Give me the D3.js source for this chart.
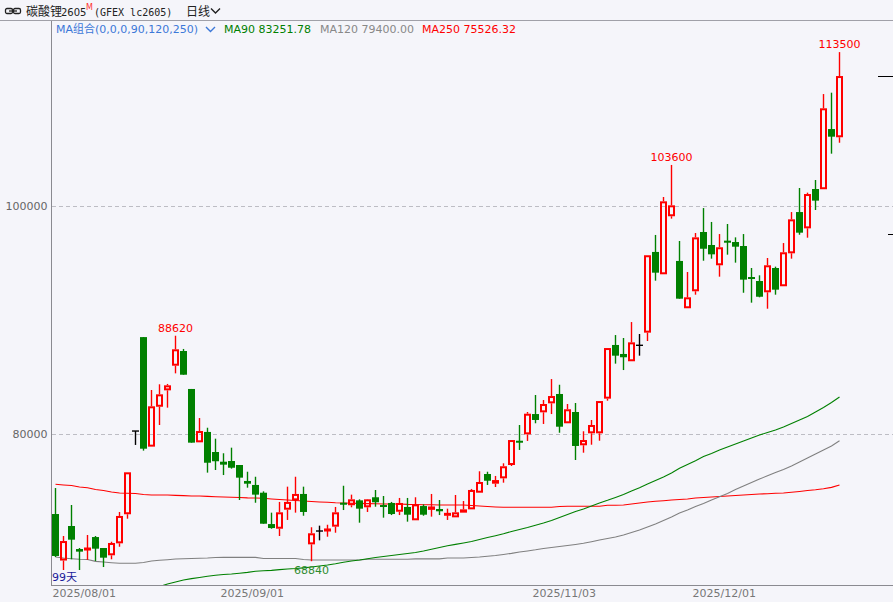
<!DOCTYPE html>
<html><head><meta charset="utf-8">
<script src="https://cdn.jsdelivr.net/npm/d3@7"></script>
<style>
html,body{margin:0;padding:0;background:#f5f5fa;}
svg{display:block;}
</style></head><body>
<svg id="c" width="893" height="602"></svg>
<script>
// ---- data ----
const opens  = [72980,68900,71930,69910,69820,70960,70000,69360,70410,72960,
                80260,88500,78890,82390,83830,85990,87280,83950,79270,80180,
                78420,77570,77630,77280,75880,75530,74850,72100,71690,73360,
                74180,74740,70320,71490,71490,71870,73970,73750,74180,73570,
                74450,73770,73950,73180,73600,72430,73680,73390,73420,72870,
                72690,73100,73390,74850,76490,75640,76110,77280,79410,79970,
                81750,81900,82690,83510,80940,81930,79010,80060,80060,83100,
                87810,87020,86380,87780,88890,95970,94010,99100,95180,91030,
                92520,97720,96580,94800,96960,96840,96490,93770,93420,92430,
                94560,92960,95850,99470,98040,101490,101470,106750,106030];
const highs  = [75260,71050,73770,70000,71140,71050,70000,70550,73160,76640,
                80260,88500,83860,84360,84390,88620,87460,83950,81400,80550,
                79590,78310,78800,77280,76690,76250,74970,73100,74040,75380,
                76250,75380,71820,71960,72040,73600,75460,74680,74270,74300,
                75090,74560,74040,74390,74390,74450,73830,74740,74210,73450,
                74650,74120,75180,76730,76690,76320,77430,79470,80790,81930,
                83420,82980,84820,84320,82630,82720,80240,81230,82890,87540,
                88680,88420,89820,88770,95680,97460,100790,103600,96930,94210,
                97630,99820,98600,97540,98420,97250,97540,94560,93920,95440,
                94680,96750,99470,101580,101170,102280,109820,109940,113500];
const lows   = [69210,68070,69010,68070,68950,68860,68330,69010,70110,72570,
                79040,78540,78890,80790,82310,85320,85200,79240,79270,76610,
                76840,76400,76960,74210,75290,73970,72130,71690,71050,72460,
                73100,72830,68840,70670,70990,71340,73330,73570,72220,73160,
                73620,72660,72890,72890,72310,72430,72830,72750,72890,72460,
                72690,73100,73390,74850,75530,75350,75730,77190,78600,79390,
                80940,80880,81750,80110,80940,77720,78360,79060,79410,82920,
                86170,85610,86380,86870,88160,93450,94010,98890,91870,91030,
                92220,95200,95380,93800,95730,95030,92390,91520,91990,90990,
                92220,92960,95380,97480,97220,99650,101470,104590,105550];
const closes = [69300,70610,70730,69680,70000,69940,69150,70440,72810,76640,
                80260,78710,82430,83480,84270,87430,85200,79240,80260,77480,
                77610,77310,77040,76170,75640,74680,72130,71750,73130,74040,
                74740,73160,71290,71490,71670,73130,73800,74270,73450,74270,
                74010,73620,72980,73950,72920,73830,72920,73600,73220,73040,
                73130,73390,75090,75790,75900,75960,77170,79470,79240,81780,
                81230,82630,83330,80640,82170,78950,79470,80790,82890,87540,
                86870,86730,88040,87780,95680,94150,100410,100060,91870,91990,
                97250,96250,95760,96380,96780,96430,93540,93620,92040,94800,
                92660,95940,98830,97660,101050,100470,108570,106080,111400];
const ma90  = [null,null,null,null,null,null,null,null,null,null,
               null,null,null,66620,66840,67020,67190,67310,67410,67520,
               67610,67670,67720,67790,67860,67960,68000,68040,68100,68160,
               68200,68260,68330,68420,68510,68620,68750,68860,68950,69060,
               69160,69250,69340,69430,69520,69610,69740,69890,70040,70190,
               70320,70440,70570,70750,70920,71080,71250,71450,71620,71800,
               72000,72190,72410,72680,72940,73200,73420,73680,73950,74180,
               74430,74690,75000,75290,75610,75920,76230,76580,76990,77330,
               77660,78030,78290,78600,78860,79120,79390,79650,79910,80130,
               80350,80610,80920,81230,81540,81930,82320,82760,83250];
const ma120 = [69210,69120,69060,69010,68990,68830,68770,68710,68660,68660,
               68660,68730,68860,68920,68970,69030,69060,69080,69100,69120,
               69170,69180,69180,69180,69180,69180,69080,69080,69080,69080,
               69080,68990,68950,68950,68950,68950,68950,68950,68950,69010,
               69010,69010,69010,69010,69010,69050,69050,69050,69050,69120,
               69120,69120,69170,69210,69280,69340,69430,69530,69650,69740,
               69840,69960,70040,70130,70220,70310,70410,70550,70700,70830,
               70960,71140,71360,71580,71840,72110,72410,72720,73070,73330,
               73640,73900,74210,74490,74780,75130,75440,75750,76050,76330,
               76620,76890,77190,77540,77890,78250,78600,78950,79400];
const ma250 = [75590,75530,75480,75350,75290,75130,75040,74910,74820,74800,
               74780,74690,74650,74650,74650,74620,74590,74560,74560,74530,
               74500,74470,74450,74430,74400,74390,74360,74300,74250,74210,
               74170,74120,74080,74040,74010,73970,73950,73930,73910,73890,
               73880,73860,73860,73860,73830,73820,73800,73790,73770,73770,
               73770,73770,73730,73680,73640,73600,73570,73570,73570,73570,
               73570,73570,73570,73640,73660,73660,73660,73660,73660,73750,
               73750,73770,73860,73950,74040,74100,74150,74210,74250,74300,
               74390,74430,74470,74520,74560,74600,74650,74690,74740,74760,
               74800,74830,74890,74960,75040,75110,75200,75320,75530];
const maLast = ["83251.78","79400.00","75526.32"];
const yTicks = [80000, 100000];
const xTickIdx = [0, 21, 60, 80];
const xTickLabels = ["2025/08/01","2025/09/01","2025/11/03","2025/12/01"];
const highMarks = [{i:15, v:88620}, {i:77, v:103600}, {i:98, v:113500}];
const lowMarks  = [{i:32, v:68840}];
const sideMarks = [111400, 97540];

// ---- drawing ----
const W = 893, H = 602;
const BG = "#f5f5fa";
const svg = d3.select("#c");
svg.append("rect").attr("width", W).attr("height", H).attr("fill", BG);

const P = {left: 51, right: 893, top: 22, bottom: 585};
const y = d3.scaleLinear().domain([66754, 116316]).range([585, 20]);
const x = d3.scaleLinear().domain([0, opens.length - 1]).range([55.5, 55.5 + 8 * (opens.length - 1)]);

const FONT = "'DejaVu Sans','Noto Sans CJK SC',sans-serif";

svg.append("defs").append("clipPath").attr("id", "clip")
  .append("rect").attr("x", P.left + 1).attr("y", P.top).attr("width", P.right - P.left).attr("height", P.bottom - P.top);

// header
const hd = svg.append("g");
hd.append("rect").attr("x", 5.5).attr("y", 8.5).attr("width", 7).attr("height", 5).attr("rx", 1.5)
  .attr("fill", "none").attr("stroke", "#222").attr("stroke-width", 1.3);
hd.append("rect").attr("x", 13.5).attr("y", 8.5).attr("width", 7).attr("height", 5).attr("rx", 1.5)
  .attr("fill", "none").attr("stroke", "#222").attr("stroke-width", 1.3);
hd.append("line").attr("x1", 9).attr("x2", 17).attr("y1", 11).attr("y2", 11).attr("stroke", "#222").attr("stroke-width", 1.3);
hd.append("text").attr("x", 26).attr("y", 16).attr("font-family", "'Noto Sans CJK SC',sans-serif")
  .attr("font-size", 12).attr("fill", "#222").text("碳酸锂");
hd.append("text").attr("x", 61).attr("y", 16).attr("font-family", FONT)
  .attr("font-size", 10).attr("fill", "#222").text("2605");
hd.append("text").attr("x", 86).attr("y", 10).attr("font-family", FONT)
  .attr("font-size", 8).attr("fill", "#ff3030").text("M");
hd.append("text").attr("x", 94).attr("y", 16).attr("font-family", "'DejaVu Sans Mono',monospace")
  .attr("font-size", 10).attr("fill", "#222").text("(GFEX lc2605)");
hd.append("text").attr("x", 186).attr("y", 16).attr("font-family", "'Noto Sans CJK SC',sans-serif")
  .attr("font-size", 12).attr("fill", "#222").text("日线");
hd.append("path").attr("d", "M211,8.5 L215.5,13 L220,8.5").attr("fill", "none").attr("stroke", "#222").attr("stroke-width", 1.4);
svg.append("line").attr("x1", 0).attr("x2", W).attr("y1", 20.5).attr("y2", 20.5).attr("stroke", "#a0a0a8");

// MA legend row
const lg = svg.append("g").attr("font-family", FONT).attr("font-size", 11);
lg.append("text").attr("x", 56).attr("y", 32.5).attr("fill", "#3c78d8").text("MA组合(0,0,0,90,120,250)");
lg.append("path").attr("d", "M206,27 L210.5,31.5 L215,27").attr("fill", "none").attr("stroke", "#3c78d8").attr("stroke-width", 1.4);
lg.append("text").attr("x", 224).attr("y", 32.5).attr("fill", "#008000").text("MA90 " + maLast[0]);
lg.append("text").attr("x", 320).attr("y", 32.5).attr("fill", "#888888").text("MA120 " + maLast[1]);
lg.append("text").attr("x", 422).attr("y", 32.5).attr("fill", "#ff0000").text("MA250 " + maLast[2]);

// grid
svg.append("g").selectAll("line").data(yTicks).join("line")
  .attr("x1", P.left + 1).attr("x2", P.right)
  .attr("y1", d => Math.round(y(d)) + 0.5).attr("y2", d => Math.round(y(d)) + 0.5)
  .attr("stroke", "#bdbdc4").attr("stroke-dasharray", "4,3");

// y axis labels
const ya = svg.append("g").attr("transform", `translate(${P.left - 0.5},0)`)
  .call(d3.axisLeft(y).tickValues(yTicks).tickSize(0).tickPadding(3).tickFormat(d3.format("d")));
ya.select(".domain").remove();
ya.selectAll("text").attr("font-family", FONT).attr("font-size", 11).attr("fill", "#666");

// x axis labels
const xa = svg.append("g").attr("transform", `translate(0,${P.bottom})`)
  .call(d3.axisBottom(x).tickValues(xTickIdx).tickSize(0).tickPadding(4).tickFormat((d, i) => xTickLabels[i]));
xa.select(".domain").remove();
xa.selectAll("text").attr("font-family", FONT).attr("font-size", 11).attr("fill", "#777")
  .attr("text-anchor", "start").attr("dx", -3.5);

// MA lines
const clipG = svg.append("g").attr("clip-path", "url(#clip)");
const line = d3.line().defined(d => d != null).x((d, i) => x(i)).y(d => y(d));
[[ma250, "#ff0000"], [ma120, "#808080"], [ma90, "#008000"]].forEach(([arr, col]) => {
  clipG.append("path").datum(arr).attr("d", line).attr("fill", "none").attr("stroke", col).attr("stroke-width", 1.1);
});

// candles
const cg = clipG.append("g");
opens.forEach((o, i) => {
  const c = closes[i], h = highs[i], l = lows[i];
  const xc = x(i);
  const up = c > o, flat = c === o;
  const col = flat ? "#000000" : (up ? "#ff0000" : "#008000");
  const top = y(Math.max(o, c)), bot = y(Math.min(o, c));
  if (up) {
    cg.append("line").attr("x1", xc).attr("x2", xc).attr("y1", y(h)).attr("y2", top).attr("stroke", col).attr("stroke-width", 1.4);
    cg.append("line").attr("x1", xc).attr("x2", xc).attr("y1", bot).attr("y2", y(l)).attr("stroke", col).attr("stroke-width", 1.4);
    const hh = bot - top;
    if (hh <= 3) {
      cg.append("rect").attr("x", xc - 3.5).attr("y", top - 0.5).attr("width", 7).attr("height", Math.max(hh + 1, 2)).attr("fill", col);
    } else {
      cg.append("rect").attr("x", xc - 2.5).attr("y", top + 1).attr("width", 5).attr("height", hh - 2)
        .attr("fill", "none").attr("stroke", col).attr("stroke-width", 2);
    }
  } else {
    cg.append("line").attr("x1", xc).attr("x2", xc).attr("y1", y(h)).attr("y2", y(l)).attr("stroke", col).attr("stroke-width", 1.4);
    if (flat) {
      cg.append("line").attr("x1", xc - 3.5).attr("x2", xc + 3.5).attr("y1", top).attr("y2", top).attr("stroke", col).attr("stroke-width", 1.4);
    } else {
      cg.append("rect").attr("x", xc - 3.5).attr("y", top).attr("width", 7).attr("height", Math.max(bot - top, 2)).attr("fill", col);
    }
  }
});

// axes lines
svg.append("line").attr("x1", P.left + 0.5).attr("x2", P.left + 0.5).attr("y1", P.top - 1).attr("y2", P.bottom + 0.5).attr("stroke", "#8a8a90");
svg.append("line").attr("x1", P.left).attr("x2", P.right).attr("y1", P.bottom + 0.5).attr("y2", P.bottom + 0.5).attr("stroke", "#8a8a90");

// high/low marks
svg.append("g").selectAll("text").data(highMarks).join("text")
  .attr("x", d => x(d.i)).attr("y", d => y(d.v) - 4).attr("text-anchor", "middle")
  .attr("font-family", FONT).attr("font-size", 11).attr("fill", "#ff0000").text(d => d.v);
svg.append("g").selectAll("text").data(lowMarks).join("text")
  .attr("x", d => x(d.i)).attr("y", d => y(d.v) + 13).attr("text-anchor", "middle")
  .attr("font-family", FONT).attr("font-size", 11).attr("fill", "#2e8b2e").text(d => d.v);

// day count
svg.append("text").attr("x", 52).attr("y", 581).attr("font-family", FONT).attr("font-size", 11)
  .attr("fill", "#1a1a9a").text(opens.length + "天");

// side marks
svg.append("line").attr("x1", 878).attr("x2", 893).attr("y1", Math.round(y(sideMarks[0])) + 0.5).attr("y2", Math.round(y(sideMarks[0])) + 0.5).attr("stroke", "#000");
svg.append("line").attr("x1", 888).attr("x2", 893).attr("y1", Math.round(y(sideMarks[1])) + 0.5).attr("y2", Math.round(y(sideMarks[1])) + 0.5).attr("stroke", "#000");
</script>
</body></html>
